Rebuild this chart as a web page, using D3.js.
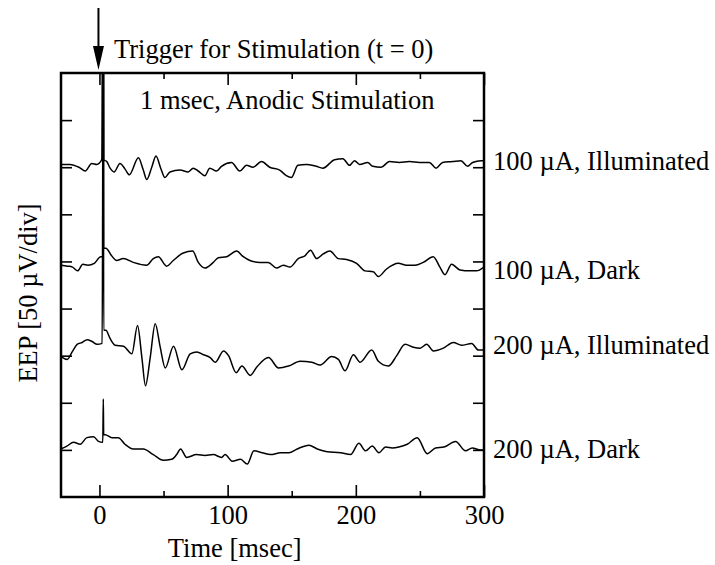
<!DOCTYPE html>
<html>
<head>
<meta charset="utf-8">
<script src="https://cdn.jsdelivr.net/npm/d3@7"></script>
<style>
  body { margin: 0; background: #fff; }
  svg text { font-family: "Liberation Serif", "Times New Roman", serif; fill: #000; }
</style>
</head>
<body>
<svg id="chart" width="715" height="565"></svg>
<script>
// time axis
var xTicks = [0, 100, 200, 300];
var xMinorTicks = [50, 150, 250];
var yTicks = [50, 100, 150, 200, 250, 300, 350, 400];

var labels = ["100 \u00b5A, Illuminated", "100 \u00b5A, Dark", "200 \u00b5A, Illuminated", "200 \u00b5A, Dark"];
var baselines = [350, 250, 150, 50];   // µV offset of each trace

// 100 µA, Illuminated
var t1 = [-30,-23,-16,-11,-6,-2,1.8,3,3.3,5.7,8.3,11.4,16,20,23.3,30.4,34.2,36.9,40.8,44.1,47.8,51.1,55,62.8,69.3,73.1,77,82.2,86.1,91.3,95.2,103,109.5,114.7,119.8,126.4,132.8,140.6,145.8,149.7,154.8,161.3,169.1,174.3,183.4,189.9,195.1,199,202.9,209.3,213.2,219.8,226.2,234,241.8,249.6,257.4,262.6,267.7,275.5,282,287.2,291.1,297.7,300];
var v1 = [3,3,0,-4,4,3,8,400,8,6,-1,-5,4,-2,-8,10,-3,-13,0,12,-1,-11,-5,-3,-5,-1,-4,-9,-1,-4,1,5,-4,2,0,6,0,-3,-9,-11,2,3,1,-1,8,9,2,7,3,5,1,0,6,5,6,5,5,-1,5,6,7,1,5,7,7];

// 100 µA, Dark
var t2 = [-30,-25,-21,-17,-13,-9,-4,1,2.7,3,3.3,5,9.5,13.4,18.6,26.4,36.8,42,45.9,52.4,57.6,65.4,72.7,77.1,82.3,88.8,92.7,99.2,107,112.2,117.4,125.2,131.7,138.2,143.4,148.6,155.1,160.3,164.7,169.4,174.6,179.8,186.3,192.8,200.6,207.1,213.6,217.5,224,233.1,239.6,246.1,252.6,260.4,265.6,269.5,274.7,281.2,289,294.2,300];
var v2 = [-4,-5,-6,-10,-3,-4,-2,5,5,400,14,14,6,1,3,-1,-4,3,5,-5,1,9,11,-1,-7,-1,4,5,11,5,1,-1,-1,-7,-4,-6,3,6,12,3,8,11,3,2,-2,-10,-11,-16,-8,-2,-4,-4,-1,5,-6,-14,-3,-9,-10,-10,-6];

// 200 µA, Illuminated
var t3 = [-30,-25.2,-21.3,-17.4,-13.5,-9.6,-5.7,-1.8,2.1,3,3.3,5,8.4,12.3,18.8,25.3,29.7,33.1,35.9,39.6,43.5,47.4,51.3,57.8,64.3,70.8,76,81.2,86.4,90.3,96.8,100.7,106.7,111.1,117.6,122.8,131.9,139.7,147.5,156.6,165.7,172.2,181.2,186.4,191.6,198.1,203.3,212.4,217.6,225.4,231.9,238.4,244.9,250.1,255.3,260.5,268.3,276.1,282.6,290.4,295.6,300];
var v3 = [-1,-4,4,12,14,17,15,12,13,400,27,27,18,11,10,2,32,-2,-32,-2,34,9,-13,10,-15,2,4,1,-2,-7,5,0,-18,-11,-21,-12,-2,-13,-11,-6,-7,-10,-1,-4,-16,1,-7,6,-6,-11,0,12,9,8,12,5,8,14,11,13,6,6];

// 200 µA, Dark
var t4 = [-30,-25.4,-20.2,-15,-9.8,-4.6,-0.7,2.6,3,3.3,4.5,9.7,14.7,19.9,26.4,34.2,42,49.8,56.3,60.2,63.3,68,75.8,82.3,88.8,95.3,98,103.6,110.1,115.3,120.5,127,133.5,141.3,147.8,154.3,163.4,169.9,177.7,188.1,195.9,202.4,207.6,212.8,218,223.2,228.4,233.6,240.1,247.9,255.7,262.2,268.7,277.8,285.6,290.8,297.3,300];
var v4 = [1,4,8,6,13,14,9,8,54,16,16,13,13,6,1,1,-5,-11,-10,-5,1,-8,-5,-6,-5,-8,-5,-12,-10,-15,-1,-3,-5,-3,-3,1,5,1,-2,-3,-5,7,-1,4,-3,3,2,3,6,13,-4,2,3,9,-1,2,0,0];

var series = [[t1, v1], [t2, v2], [t3, v3], [t4, v4]];

var plotL = 61, plotR = 484, plotT = 73, plotB = 497;
var serif = "'Liberation Serif', 'Times New Roman', serif";
var fs = 26.5;

var svg = d3.select("#chart").style("font-family", serif);

var x = d3.scaleLinear().domain([-30, 300]).range([plotL, plotR]);
var y = d3.scaleLinear().domain([0, 450]).range([plotB, plotT]);

svg.append("clipPath").attr("id", "plotclip")
   .append("rect")
   .attr("x", plotL).attr("y", plotT)
   .attr("width", plotR - plotL).attr("height", plotB - plotT);

// traces
var line = d3.line()
    .x(function(d) { return x(d[0]); })
    .y(function(d) { return y(d[1]); })
    .curve(d3.curveMonotoneX);

series.forEach(function(s, i) {
  var pts = s[0].map(function(t, j) { return [t, s[1][j] + baselines[i]]; });
  svg.append("path")
     .datum(pts)
     .attr("clip-path", "url(#plotclip)")
     .attr("d", line)
     .attr("fill", "none")
     .attr("stroke", "#000")
     .attr("stroke-width", 1.5)
     .attr("stroke-linejoin", "round");
});

// axes (ticks point inward)
function styleAxis(g) {
  g.attr("font-family", serif).attr("font-size", fs);
  g.select(".domain").remove();
  g.selectAll("line").attr("stroke", "#000").attr("stroke-width", 1.6);
}

svg.append("g")
   .attr("transform", "translate(0," + plotB + ")")
   .call(d3.axisBottom(x).tickValues(xTicks).tickSize(-12).tickPadding(8).tickFormat(d3.format("d")))
   .call(styleAxis);

svg.append("g")
   .attr("transform", "translate(0," + plotB + ")")
   .call(d3.axisBottom(x).tickValues(xMinorTicks).tickSize(-6).tickFormat(""))
   .call(styleAxis);

svg.append("g")
   .attr("transform", "translate(0," + plotT + ")")
   .call(d3.axisTop(x).tickValues(xTicks).tickSize(-12).tickFormat(""))
   .call(styleAxis);

svg.append("g")
   .attr("transform", "translate(0," + plotT + ")")
   .call(d3.axisTop(x).tickValues(xMinorTicks).tickSize(-6).tickFormat(""))
   .call(styleAxis);

svg.append("g")
   .attr("transform", "translate(" + plotL + ",0)")
   .call(d3.axisLeft(y).tickValues(yTicks).tickSize(-11).tickFormat(""))
   .call(styleAxis);

svg.append("g")
   .attr("transform", "translate(" + plotR + ",0)")
   .call(d3.axisRight(y).tickValues(yTicks).tickSize(-11).tickFormat(""))
   .call(styleAxis);

// frame
svg.append("rect")
   .attr("x", plotL).attr("y", plotT)
   .attr("width", plotR - plotL).attr("height", plotB - plotT)
   .attr("fill", "none")
   .attr("stroke", "#000")
   .attr("stroke-width", 2.5);

function addText(xp, yp, str) {
  return svg.append("text")
     .attr("x", xp).attr("y", yp)
     .attr("font-family", serif)
     .attr("font-size", fs)
     .text(str);
}

// trace labels
var labelShift = [3, 18, -2, 8];
labels.forEach(function(d, i) {
  addText(plotR + 9, y(baselines[i]) + labelShift[i], d);
});

// axis titles
addText((x(0) + x(200)) / 2 + 7, 557, "Time [msec]").attr("text-anchor", "middle");

svg.append("text")
   .attr("transform", "translate(37," + ((plotT + plotB) / 2 + 8) + ") rotate(-90)")
   .attr("text-anchor", "middle")
   .attr("font-family", serif)
   .attr("font-size", fs)
   .text("EEP [50 \u00b5V/div]");

addText(140, 109, "1 msec, Anodic Stimulation");

// trigger arrow
var ax = x(0) - 1;
svg.append("line")
   .attr("x1", ax).attr("x2", ax)
   .attr("y1", 8).attr("y2", 50)
   .attr("stroke", "#000").attr("stroke-width", 2);
svg.append("path")
   .attr("d", "M" + (ax - 5.5) + ",46L" + (ax + 5.5) + ",46L" + ax + ",70Z")
   .attr("fill", "#000");

addText(114, 58, "Trigger for Stimulation (t = 0)");
</script>
</body>
</html>
